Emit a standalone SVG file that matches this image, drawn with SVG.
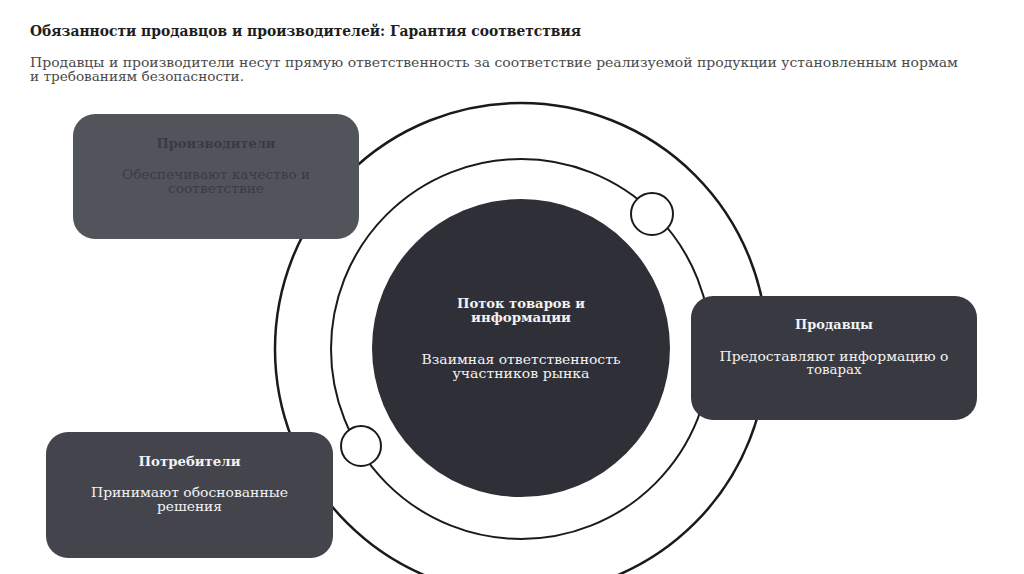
<svg xmlns="http://www.w3.org/2000/svg" width="1024" height="574" viewBox="0 0 1024 574">
<style>
text{font-family:"DejaVu Serif","Liberation Serif",serif;}
.h{font-size:13.5px;font-weight:bold;text-anchor:middle;}
.b{font-size:12.5px;text-anchor:middle;}
.lt{fill:#f2f2f2;}
.dk{fill:#3a3b42;}
.ring{fill:none;stroke:#1a1a1a;}
.dot{fill:#ffffff;stroke:#1a1a1a;stroke-width:2;}
</style>
<rect width="1024" height="574" fill="#ffffff"/>
<g id="header">
<text x="30" y="36" font-size="14" font-weight="bold" fill="#1e1e1e" textLength="551" lengthAdjust="spacingAndGlyphs">Обязанности продавцов и производителей: Гарантия соответствия</text>
<text x="30" y="66.5" font-size="13.5" fill="#4a4a4a" textLength="928" lengthAdjust="spacingAndGlyphs">Продавцы и производители несут прямую ответственность за соответствие реализуемой продукции установленным нормам</text>
<text x="30" y="81" font-size="13.5" fill="#4a4a4a" textLength="214" lengthAdjust="spacingAndGlyphs">и требованиям безопасности.</text>
</g>
<g id="connectors">
<circle class="ring" cx="521" cy="349" r="246" stroke-width="2.5"/>
<circle class="ring" cx="521" cy="349" r="190" stroke-width="2"/>
</g>
<g id="center">
<circle cx="521" cy="348" r="149" fill="#2f3037"/>
<text class="h lt" x="521" y="307.5" textLength="128" lengthAdjust="spacingAndGlyphs">Поток товаров и</text>
<text class="h lt" x="521" y="322" textLength="100" lengthAdjust="spacingAndGlyphs">информации</text>
<text class="b lt" x="521" y="363.5" textLength="199" lengthAdjust="spacingAndGlyphs">Взаимная ответственность</text>
<text class="b lt" x="521" y="377.5" textLength="137" lengthAdjust="spacingAndGlyphs">участников рынка</text>
</g>
<g id="dot1"><circle class="dot" cx="652" cy="214" r="21"/></g>
<g id="dot2"><circle class="dot" cx="361" cy="446" r="20"/></g>
<g id="producers">
<rect x="73" y="114" width="286" height="125" rx="22" fill="#52545c"/>
<text class="h dk" x="216" y="148" textLength="119" lengthAdjust="spacingAndGlyphs">Производители</text>
<text class="b dk" x="216" y="179" textLength="188" lengthAdjust="spacingAndGlyphs">Обеспечивают качество и</text>
<text class="b dk" x="216" y="193" textLength="96" lengthAdjust="spacingAndGlyphs">соответствие</text>
</g>
<g id="sellers">
<rect x="691" y="296" width="286" height="124" rx="22" fill="#393a41"/>
<text class="h lt" x="834" y="329" textLength="78" lengthAdjust="spacingAndGlyphs">Продавцы</text>
<text class="b lt" x="834" y="360.5" textLength="229" lengthAdjust="spacingAndGlyphs">Предоставляют информацию о</text>
<text class="b lt" x="834" y="374" textLength="55" lengthAdjust="spacingAndGlyphs">товарах</text>
</g>
<g id="consumers">
<rect x="46" y="432" width="287" height="126" rx="22" fill="#43444c"/>
<text class="h lt" x="189.5" y="466" textLength="102" lengthAdjust="spacingAndGlyphs">Потребители</text>
<text class="b lt" x="189.5" y="496.5" textLength="197" lengthAdjust="spacingAndGlyphs">Принимают обоснованные</text>
<text class="b lt" x="189.5" y="510.5" textLength="65" lengthAdjust="spacingAndGlyphs">решения</text>
</g>
</svg>
